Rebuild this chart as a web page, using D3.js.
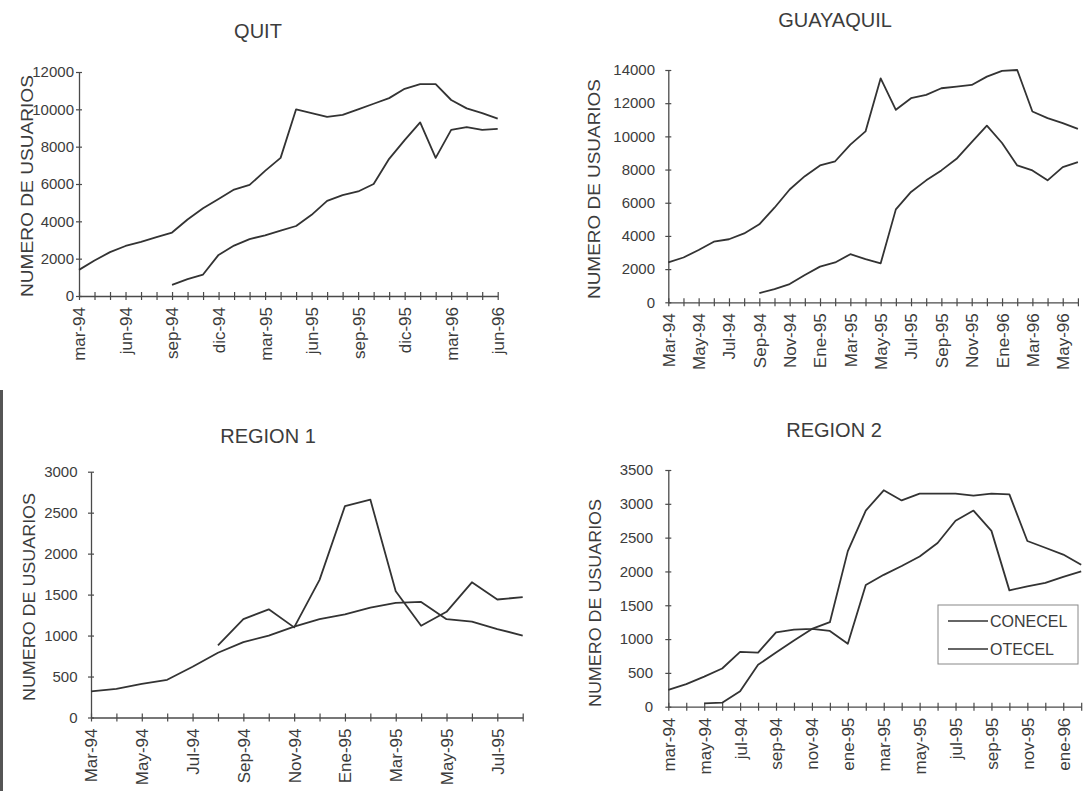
<!DOCTYPE html>
<html><head><meta charset="utf-8">
<script src="https://cdn.jsdelivr.net/npm/d3@7"></script>
<style>
html,body{margin:0;padding:0;background:#fff;}
svg{display:block;}
</style></head><body>
<svg id="chart" width="1086" height="791"></svg>
<script>
// ---------- DATA ----------
const quitMonths = ["mar-94","abr-94","may-94","jun-94","jul-94","ago-94","sep-94","oct-94","nov-94","dic-94",
  "ene-95","feb-95","mar-95","abr-95","may-95","jun-95","jul-95","ago-95","sep-95","oct-95","nov-95","dic-95",
  "ene-96","feb-96","mar-96","abr-96","may-96","jun-96"];
const quitConecel = [1400,1900,2350,2680,2900,3150,3400,4100,4700,5200,5700,5950,6700,7400,10000,9800,9600,9700,10000,10300,10600,11100,11350,11350,10500,10050,9800,9500];
const quitOtecel = [null,null,null,null,null,null,600,900,1150,2200,2700,3050,3250,3500,3750,4350,5100,5400,5600,6000,7350,8350,9300,7400,8900,9050,8900,8950];
const quitYTicks = [0,2000,4000,6000,8000,10000,12000];

const guayMonths = ["Mar-94","Abr-94","May-94","Jun-94","Jul-94","Ago-94","Sep-94","Oct-94","Nov-94","Dic-94",
  "Ene-95","Feb-95","Mar-95","Abr-95","May-95","Jun-95","Jul-95","Ago-95","Sep-95","Oct-95","Nov-95","Dic-95",
  "Ene-96","Feb-96","Mar-96","Abr-96","May-96","Jun-96"];
const guayConecel = [2400,2700,3150,3650,3800,4150,4700,5700,6800,7600,8250,8500,9500,10300,13500,11600,12300,12500,12900,13000,13100,13600,13950,14000,11500,11100,10800,10450];
const guayOtecel = [null,null,null,null,null,null,550,800,1100,1650,2150,2400,2900,2600,2350,5600,6650,7350,7950,8650,9650,10650,9600,8250,7950,7350,8150,8450];
const guayYTicks = [0,2000,4000,6000,8000,10000,12000,14000];

const reg1Months = ["Mar-94","Abr-94","May-94","Jun-94","Jul-94","Ago-94","Sep-94","Oct-94","Nov-94","Dic-94",
  "Ene-95","Feb-95","Mar-95","Abr-95","May-95","Jun-95","Jul-95","Ago-95"];
const reg1Conecel = [320,350,410,460,620,790,920,1000,1110,1200,1260,1340,1400,1410,1200,1170,1080,1000];
const reg1Otecel = [null,null,null,null,null,880,1200,1320,1100,1680,2580,2660,1540,1120,1290,1650,1440,1470];
const reg1YTicks = [0,500,1000,1500,2000,2500,3000];

const reg2Months = ["mar-94","abr-94","may-94","jun-94","jul-94","ago-94","sep-94","oct-94","nov-94","dic-94",
  "ene-95","feb-95","mar-95","abr-95","may-95","jun-95","jul-95","ago-95","sep-95","oct-95","nov-95","dic-95",
  "ene-96","feb-96"];
const reg2Conecel = [250,335,445,565,810,800,1100,1140,1150,1250,2300,2900,3200,3050,3150,3150,3150,3120,3150,3140,2450,2350,2250,2100];
const reg2Otecel = [null,null,50,60,230,620,800,980,1150,1120,930,1800,1950,2080,2220,2420,2750,2900,2600,1720,1780,1830,1920,2000];
const reg2YTicks = [0,500,1000,1500,2000,2500,3000,3500];

const seriesNames = ["CONECEL","OTECEL"];
const axisTitle = "NUMERO DE USUARIOS";

// ---------- LAYOUT ----------
const FONT = '"Liberation Sans", Arial, Helvetica, sans-serif';
const INK = "#3c3c3c";
const panels = [
  {title:"QUIT", cats:quitMonths, every:3, series:[quitConecel,quitOtecel], yTicks:quitYTicks,
   x0:79, x1:497.7, yb:296, yt:72, tickRight:74, tX:258, tY:38, aX:27, aY:186, aLen:222},
  {title:"GUAYAQUIL", cats:guayMonths, every:2, series:[guayConecel,guayOtecel], yTicks:guayYTicks,
   x0:668.3, x1:1077.9, yb:302.3, yt:70, tickRight:655, tX:835, tY:27, aX:594.5, aY:189, aLen:220},
  {title:"REGION 1", cats:reg1Months, every:2, series:[reg1Conecel,reg1Otecel], yTicks:reg1YTicks,
   x0:91, x1:522.7, yb:717.5, yt:471.7, tickRight:77.5, tX:268, tY:443, aX:29, aY:597, aLen:208},
  {title:"REGION 2", cats:reg2Months, every:2, series:[reg2Conecel,reg2Otecel], yTicks:reg2YTicks,
   x0:668.3, x1:1081.2, yb:706.7, yt:470, tickRight:653, tX:834, tY:437, aX:595.5, aY:603, aLen:208, legend:true}
];

const svg = d3.select("#chart");
svg.append("rect").attr("width",1086).attr("height",791).attr("fill","#fff");
// scan edge on the left
svg.append("rect").attr("x",0).attr("y",390).attr("width",3).attr("height",401).attr("fill","#555");

panels.forEach(p => {
  const g = svg.append("g");
  const x = d3.scalePoint().domain(p.cats).range([p.x0, p.x1]);
  const y = d3.scaleLinear().domain([0, d3.max(p.yTicks)]).range([p.yb, p.yt]);

  // title
  g.append("text").attr("x", p.tX).attr("y", p.tY).attr("text-anchor","middle")
    .attr("font-family", FONT).attr("font-size", 20).attr("fill", INK).text(p.title);

  // axis title
  g.append("text").attr("transform", `translate(${p.aX},${p.aY}) rotate(-90)`)
    .attr("text-anchor","middle").attr("dy","0.35em")
    .attr("textLength", p.aLen).attr("lengthAdjust","spacingAndGlyphs")
    .attr("font-family", FONT).attr("font-size", 17).attr("fill", INK).text(axisTitle);

  // y axis
  const ya = g.append("g").attr("transform", `translate(${p.x0},0)`)
    .call(d3.axisLeft(y).tickValues(p.yTicks).tickSizeOuter(0).tickSizeInner(3)
      .tickPadding(p.x0 - p.tickRight - 3).tickFormat(d3.format("d")));
  ya.attr("font-family", FONT).attr("font-size", 15).attr("color", "#4a4a4a");
  ya.select(".domain").attr("stroke-width", 1.3);
  ya.selectAll(".tick line").attr("x1", 3).attr("x2", -3).attr("stroke-width", 1.2);
  ya.selectAll(".tick text").attr("fill", INK);

  // x axis
  const xa = g.append("g").attr("transform", `translate(0,${p.yb})`)
    .call(d3.axisBottom(x).tickSizeOuter(0).tickSizeInner(4)
      .tickFormat((d,i) => i % p.every === 0 ? d : ""));
  xa.attr("font-family", FONT).attr("font-size", 17).attr("color", "#4a4a4a");
  xa.select(".domain").attr("stroke-width", 1.3);
  xa.selectAll(".tick line").attr("y1", -4).attr("y2", 4).attr("stroke-width", 1.2);
  xa.selectAll(".tick text").attr("transform","rotate(-90)").attr("text-anchor","end")
    .attr("x", -11).attr("y", 0).attr("dy", "0.35em").attr("fill", INK);

  // lines
  const line = d3.line().defined(d => d != null)
    .x((d,i) => x(p.cats[i])).y(d => y(d));
  p.series.forEach(s => {
    g.append("path").datum(s).attr("d", line).attr("fill","none")
      .attr("stroke", "#333").attr("stroke-width", 1.8).attr("stroke-linejoin","round");
  });

  if (p.legend) {
    const lg = g.append("g").attr("transform","translate(938,605)");
    lg.append("rect").attr("width",140).attr("height",59).attr("fill","#fff")
      .attr("stroke","#888").attr("stroke-width",1);
    seriesNames.forEach((n,k) => {
      const yy = 16 + k*28;
      lg.append("line").attr("x1",10).attr("x2",50).attr("y1",yy).attr("y2",yy)
        .attr("stroke","#333").attr("stroke-width",1.5);
      lg.append("text").attr("x",52).attr("y",yy).attr("dy","0.35em")
        .attr("font-family",FONT).attr("font-size",16).attr("fill",INK).text(n);
    });
  }
});
</script>
</body></html>
